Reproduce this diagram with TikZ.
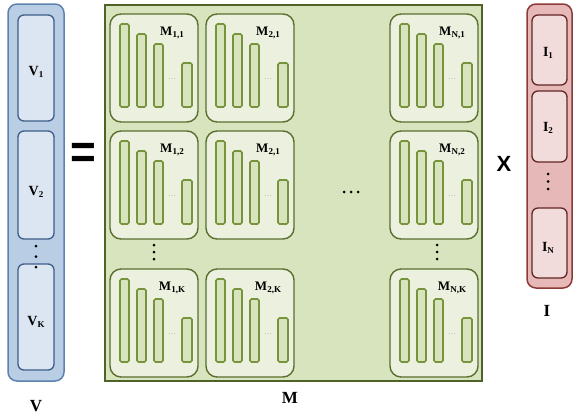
\documentclass[tikz,border=0pt]{standalone}
\usepackage{fontspec}
\setmainfont{Liberation Serif}
\newfontfamily\symfont{Liberation Sans}
\definecolor{vfill}{HTML}{B9CDE5}
\definecolor{vline}{HTML}{5E82AE}
\definecolor{vinfill}{HTML}{DCE6F2}
\definecolor{vinline}{HTML}{3E5E88}
\definecolor{mfill}{HTML}{D7E4BD}
\definecolor{mline}{HTML}{4F6228}
\definecolor{cellfill}{HTML}{EBF1DE}
\definecolor{cellline}{HTML}{5A6E2E}
\definecolor{barline}{HTML}{77933C}
\definecolor{ifill}{HTML}{E6B9B8}
\definecolor{iline}{HTML}{8C3A38}
\definecolor{iinfill}{HTML}{F2DCDB}
\definecolor{iinline}{HTML}{632523}
\newcommand\lsub[1]{\raisebox{-0.35ex}{\fontsize{9}{9}\selectfont\bfseries #1}}
\tikzset{
  outerv/.style={draw=vline, fill=vfill, line width=1.5pt, rounded corners=9pt},
  innerv/.style={draw=vinline, fill=vinfill, line width=1.3pt, rounded corners=6pt},
  outeri/.style={draw=iline, fill=ifill, line width=1.5pt, rounded corners=9pt},
  inneri/.style={draw=iinline, fill=iinfill, line width=1.3pt, rounded corners=6pt},
  outerm/.style={draw=mline, fill=mfill, line width=1.8pt},
  cellbox/.style={draw=cellline, fill=cellfill, rounded corners=11pt, line width=1.4pt},
  barbox/.style={draw=barline, fill=mfill, line width=1.6pt, rounded corners=1.5pt},
  lab/.style={font=\fontsize{14}{14}\selectfont\bfseries, inner sep=0pt},
  mlab/.style={font=\fontsize{13}{13}\selectfont\bfseries, inner sep=0pt},
  biglab/.style={font=\fontsize{17}{17}\selectfont\bfseries, inner sep=0pt},
  tdots/.style={font=\fontsize{6}{6}\selectfont, text=gray, inner sep=0pt},
  dotc/.style={fill=black, circle, inner sep=0pt, minimum size=3pt},
}
\newcommand\mcell[4]{%
  \path[cellbox] (#1,#2) rectangle ++(88,108);
  \coordinate (#3) at (#1+44,#2+54);
  \begin{scope}[shift={(#1,#2)}]
    \draw[barbox] (10,10) rectangle (19,93);
    \draw[barbox] (27,20) rectangle (36,93);
    \draw[barbox] (44,30) rectangle (53,93);
    \draw[barbox] (72,49) rectangle (82,93);
    \node[mlab] (#3lab) at (62,19) {M\lsub{#4}};
    \node[tdots] (#3dots) at (62,65) {.\,.\,.};
  \end{scope}}
\begin{document}
\begin{tikzpicture}[x=1pt,y=-1pt]
\path[use as bounding box] (0,0) rectangle (574,415);
% V vector
\path[outerv] (8,4) rectangle (64,381);
\path[innerv] (18,15) rectangle (54,121);
\path[innerv] (18,131) rectangle (54,239);
\path[innerv] (18,264) rectangle (54,370);
\node[lab] (v1) at (36,72) {V\lsub{1}};
\node[lab] (v2) at (36,192) {V\lsub{2}};
\node[lab] (vk) at (36,322) {V\lsub{K}};
\node[dotc] (vd1) at (36,246) {};
\node[dotc] (vd2) at (36,256.5) {};
\node[dotc] (vd3) at (36,267) {};
\node[biglab] (vlab) at (36,406) {V};
% equals
\node[font=\symfont\fontsize{42}{42}\selectfont\bfseries, inner sep=0pt, xscale=1.05, yscale=1.15] (eq) at (83,156) {=};
% M matrix
\path[outerm] (105,5) rectangle (482,381);
\mcell{110}{14}{m11}{1,1}
\mcell{206}{14}{m21}{2,1}
\mcell{390}{14}{mn1}{N,1}
\mcell{110}{131}{m12}{1,2}
\mcell{206}{131}{m22}{2,1}
\mcell{390}{131}{mn2}{N,2}
\mcell{110}{269}{m1k}{1,K}
\mcell{206}{269}{m2k}{2,K}
\mcell{390}{269}{mnk}{N,K}
\node[dotc] (hd1) at (344,192) {};
\node[dotc] (hd2) at (351,192) {};
\node[dotc] (hd3) at (358,192) {};
\node[dotc] (c1d1) at (154,245) {};
\node[dotc] (c1d2) at (154,252) {};
\node[dotc] (c1d3) at (154,259) {};
\node[dotc] (cnd1) at (437,245) {};
\node[dotc] (cnd2) at (437,252) {};
\node[dotc] (cnd3) at (437,259) {};
\node[biglab] (mlabel) at (290,398) {M};
% times
\node[font=\symfont\fontsize{22}{22}\selectfont\bfseries, inner sep=0pt] (times) at (504,164) {X};
% I vector
\path[outeri] (527,4) rectangle (572,288);
\path[inneri] (532,15) rectangle (567,85);
\path[inneri] (532,91) rectangle (567,162);
\path[inneri] (532,208) rectangle (567,278);
\node[lab] (i1) at (548,53) {I\lsub{1}};
\node[lab] (i2) at (548,128) {I\lsub{2}};
\node[lab] (in) at (548,248) {I\lsub{N}};
\node[dotc] (id1) at (548,174) {};
\node[dotc] (id2) at (548,181.5) {};
\node[dotc] (id3) at (548,189) {};
\node[biglab] (ilab) at (547,311) {I};
\end{tikzpicture}
\end{document}
